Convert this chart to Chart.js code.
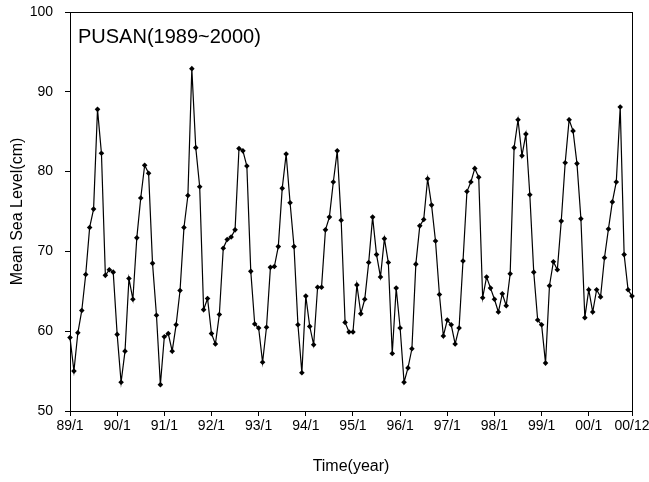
<!DOCTYPE html>
<html lang="en">
<head>
  <meta charset="UTF-8">
  <title>PUSAN Mean Sea Level 1989~2000</title>
  <script src="https://cdn.jsdelivr.net/npm/chart.js"></script>
  <style>
    html, body {
      margin: 0;
      padding: 0;
      background: #fff;
      overflow: hidden;
    }
  </style>
</head>
<body>
  <canvas id="seaLevelChart" width="649" height="482"></canvas>

  <script>
    // monthly mean sea level (cm), Jan 1989 .. Dec 2000
    const seaLevel = [
      59.2, 55.0, 59.8, 62.6, 67.1, 73.0, 75.3, 87.8, 82.3, 67.0, 67.7, 67.4,
      59.6, 53.6, 57.5, 66.6, 64.0, 71.7, 76.7, 80.8, 79.8, 68.5, 62.0, 53.3,
      59.3, 59.7, 57.5, 60.8, 65.1, 73.0, 77.0, 92.9, 83.0, 78.1, 62.7, 64.1,
      59.7, 58.4, 62.1, 70.4, 71.5, 71.8, 72.7, 82.9, 82.6, 80.7, 67.5, 60.9,
      60.4, 56.1, 60.5, 68.0, 68.1, 70.6, 77.9, 82.2, 76.1, 70.6, 60.8, 54.8,
      64.4, 60.6, 58.3, 65.5, 65.5, 72.7, 74.3, 78.7, 82.6, 73.9, 61.1, 59.9,
      59.9, 65.8, 62.2, 64.0, 68.6, 74.3, 69.6, 66.8, 71.6, 68.6, 57.2, 65.4,
      60.4, 53.6, 55.4, 57.8, 68.4, 73.2, 74.0, 79.1, 75.8, 71.3, 64.6, 59.4,
      61.4, 60.8, 58.4, 60.4, 68.8, 77.5, 78.7, 80.4, 79.3, 64.2, 66.8, 65.4,
      64.0, 62.4, 64.7, 63.2, 67.2, 83.0, 86.5, 82.0, 84.7, 77.1, 67.4, 61.4,
      60.8, 56.0, 65.7, 68.7, 67.7, 73.8, 81.1, 86.5, 85.1, 81.0, 74.1, 61.7,
      65.2, 62.4, 65.2, 64.3, 69.2, 72.8, 76.2, 78.7, 88.1, 69.6, 65.2, 64.4
    ];

    // x tick positions (month index) and their labels
    const tickMonths = [0, 12, 24, 36, 48, 60, 72, 84, 96, 108, 120, 132, 143];
    const tickLabels = ['89/1', '90/1', '91/1', '92/1', '93/1', '94/1', '95/1',
                        '96/1', '97/1', '98/1', '99/1', '00/1', '00/12'];
    const yTicks = [50, 60, 70, 80, 90, 100];

    const fontFamily = "'Liberation Sans', Arial, sans-serif";

    // frame around plot + title text inside
    const framePlugin = {
      id: 'frame',
      afterDraw(chart) {
        const { ctx, chartArea: a } = chart;
        ctx.save();
        ctx.strokeStyle = '#000';
        ctx.lineWidth = 1;
        ctx.strokeRect(a.left + 0.5, a.top + 0.5, a.right - a.left, a.bottom - a.top);
        ctx.fillStyle = '#000';
        ctx.font = '20px ' + fontFamily;
        ctx.textBaseline = 'alphabetic';
        ctx.fillText('PUSAN(1989~2000)', a.left + 8, a.top + 31);
        ctx.restore();
      }
    };

    new Chart(document.getElementById('seaLevelChart'), {
      type: 'line',
      data: {
        datasets: [{
          label: 'Mean Sea Level',
          data: seaLevel.map((v, i) => ({ x: i, y: v })),
          borderColor: '#000',
          backgroundColor: '#000',
          borderWidth: 1.2,
          pointStyle: 'rectRot',
          pointRadius: 2.8,
          pointBorderWidth: 0,
          tension: 0,
          clip: false
        }]
      },
      plugins: [framePlugin],
      options: {
        responsive: false,
        animation: false,
        devicePixelRatio: 1,
        layout: { padding: { top: 12, right: 17, left: 0, bottom: 0 } },
        plugins: {
          legend: { display: false },
          tooltip: { enabled: false }
        },
        scales: {
          x: {
            type: 'linear',
            min: 0,
            max: 143,
            afterBuildTicks: (scale) => {
              scale.ticks = tickMonths.map(v => ({ value: v }));
            },
            afterFit: (scale) => {
              scale.height = 71;
              scale.paddingLeft = 0;
              scale.paddingRight = 0;
            },
            grid: { drawOnChartArea: false, color: '#000', tickLength: 5 },
            border: { color: '#000' },
            ticks: {
              autoSkip: false,
              maxRotation: 0,
              padding: 2,
              color: '#000',
              font: { family: fontFamily, size: 14 },
              callback: (value) => tickLabels[tickMonths.indexOf(value)]
            },
            title: {
              display: true,
              text: 'Time(year)',
              color: '#000',
              font: { family: fontFamily, size: 16 },
              padding: { top: 0, bottom: 6 }
            }
          },
          y: {
            min: 50,
            max: 100,
            afterBuildTicks: (scale) => {
              scale.ticks = yTicks.map(v => ({ value: v }));
            },
            afterFit: (scale) => {
              scale.width = 70;
              scale.paddingTop = 0;
              scale.paddingBottom = 0;
            },
            grid: { drawOnChartArea: false, color: '#000', tickLength: 5 },
            border: { color: '#000' },
            ticks: {
              padding: 12,
              color: '#000',
              font: { family: fontFamily, size: 14 }
            },
            title: {
              display: true,
              text: 'Mean Sea Level(cm)',
              color: '#000',
              font: { family: fontFamily, size: 16 },
              padding: { top: 8, bottom: 0 }
            }
          }
        }
      }
    });
  </script>
</body>
</html>
